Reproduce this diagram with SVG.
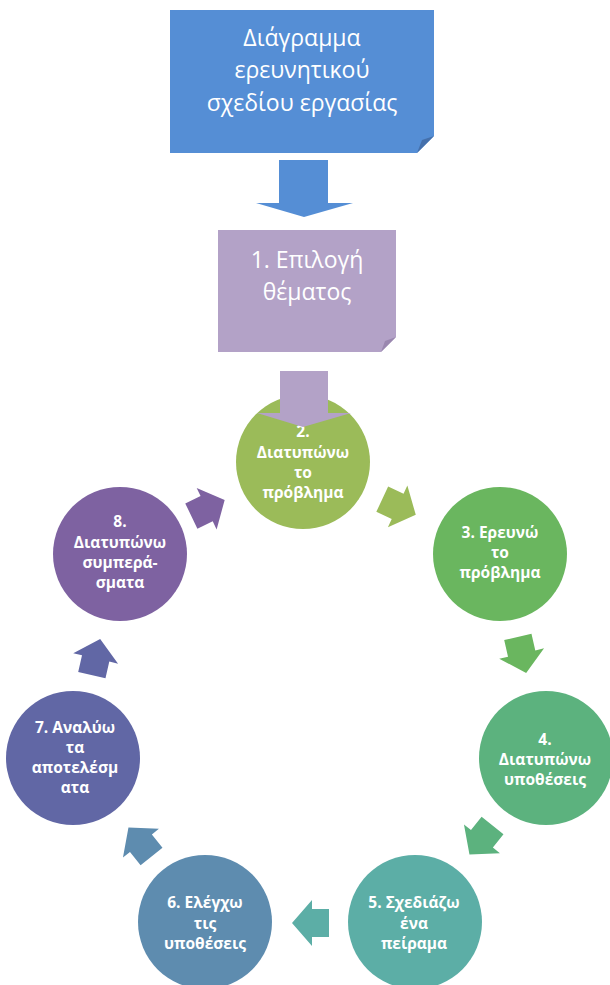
<svg xmlns="http://www.w3.org/2000/svg" xmlns:xlink="http://www.w3.org/1999/xlink" width="610" height="985" viewBox="0 0 610 985">
<style>
.bt{font-family:"Open Sans","Liberation Sans",sans-serif;font-size:23px;fill:#ffffff;text-anchor:middle}
.ct{font-family:"Open Sans","Liberation Sans",sans-serif;font-size:15.5px;font-weight:700;fill:#ffffff;text-anchor:middle}
</style>
<defs>
<path id="arr" d="M-18.5,-14 L-1.5,-14 L-1.5,-23 L18.5,0 L-1.5,23 L-1.5,14 L-18.5,14 Z"/>
</defs>
<rect width="610" height="985" fill="#ffffff"/>
<g id="title">
<path d="M170,10 H434 V136 L417,153 H170 Z" fill="#558ED5"/>
<path d="M434,136 L417,153 L422,140 Z" fill="#4570AB"/>
<text class="bt" x="302" y="46">Διάγραμμα</text>
<text class="bt" x="302" y="78">ερευνητικού</text>
<text class="bt" x="302" y="111">σχεδίου εργασίας</text>
</g>
<g id="step1">
<path d="M218,230 H396 V337 L381,352 H218 Z" fill="#B3A2C7"/>
<path d="M396,337 L381,352 L385,341 Z" fill="#9A87AF"/>
<text class="bt" x="307" y="268">1. Επιλογή</text>
<text class="bt" x="307" y="300">θέματος</text>
</g>
<g id="step2">
<circle cx="303" cy="462" r="67" fill="#9BBB59"/>
<text class="ct" x="303" y="437">2.</text>
<text class="ct" x="303" y="458">Διατυπώνω</text>
<text class="ct" x="303" y="478">το</text>
<text class="ct" x="303" y="498">πρόβλημα</text>
</g>
<g id="step3">
<circle cx="500" cy="554" r="67" fill="#6AB65F"/>
<text class="ct" x="500" y="538">3. Ερευνώ</text>
<text class="ct" x="500" y="558">το</text>
<text class="ct" x="500" y="578">πρόβλημα</text>
</g>
<g id="step4">
<circle cx="546" cy="758" r="67" fill="#5CB27E"/>
<text class="ct" x="545" y="745">4.</text>
<text class="ct" x="545" y="765">Διατυπώνω</text>
<text class="ct" x="545" y="785">υποθέσεις</text>
</g>
<g id="step5">
<circle cx="415" cy="922" r="67" fill="#5CAEA6"/>
<text class="ct" x="414" y="908">5. Σχεδιάζω</text>
<text class="ct" x="414" y="929">ένα</text>
<text class="ct" x="414" y="949">πείραμα</text>
</g>
<g id="step6">
<circle cx="205" cy="922" r="67" fill="#5E8CAF"/>
<text class="ct" x="205" y="908">6. Ελέγχω</text>
<text class="ct" x="205" y="929">τις</text>
<text class="ct" x="205" y="949">υποθέσεις</text>
</g>
<g id="step7">
<circle cx="73" cy="758" r="67" fill="#6167A5"/>
<text class="ct" x="75" y="733">7. Αναλύω</text>
<text class="ct" x="75" y="753">τα</text>
<text class="ct" x="75" y="773">αποτελέσμ</text>
<text class="ct" x="75" y="793">ατα</text>
</g>
<g id="step8">
<circle cx="120" cy="554" r="67" fill="#7E62A1"/>
<text class="ct" x="120" y="527">8.</text>
<text class="ct" x="120" y="548">Διατυπώνω</text>
<text class="ct" x="120" y="568">συμπερά-</text>
<text class="ct" x="120" y="588">σματα</text>
</g>
<g id="connectors">
<path d="M279,160 H328 V203 H353 L304,217 L256,203 H279 Z" fill="#558ED5"/>
<path d="M280,371 H328 V413 H351 L303,427 L257,413 H280 Z" fill="#B3A2C7"/>
<use xlink:href="#arr" transform="translate(399,507) rotate(25)" fill="#9BBB59"/>
<use xlink:href="#arr" transform="translate(522,655) rotate(77)" fill="#6AB65F"/>
<use xlink:href="#arr" transform="translate(481,840) rotate(128.6)" fill="#5CB27E"/>
<use xlink:href="#arr" transform="translate(310.5,923) rotate(180)" fill="#5CAEA6"/>
<use xlink:href="#arr" transform="translate(140,842) rotate(231.4)" fill="#5E8CAF"/>
<use xlink:href="#arr" transform="translate(96,657) rotate(283)" fill="#6167A5"/>
<use xlink:href="#arr" transform="translate(208,508) rotate(334.3)" fill="#7E62A1"/>
</g>
</svg>
